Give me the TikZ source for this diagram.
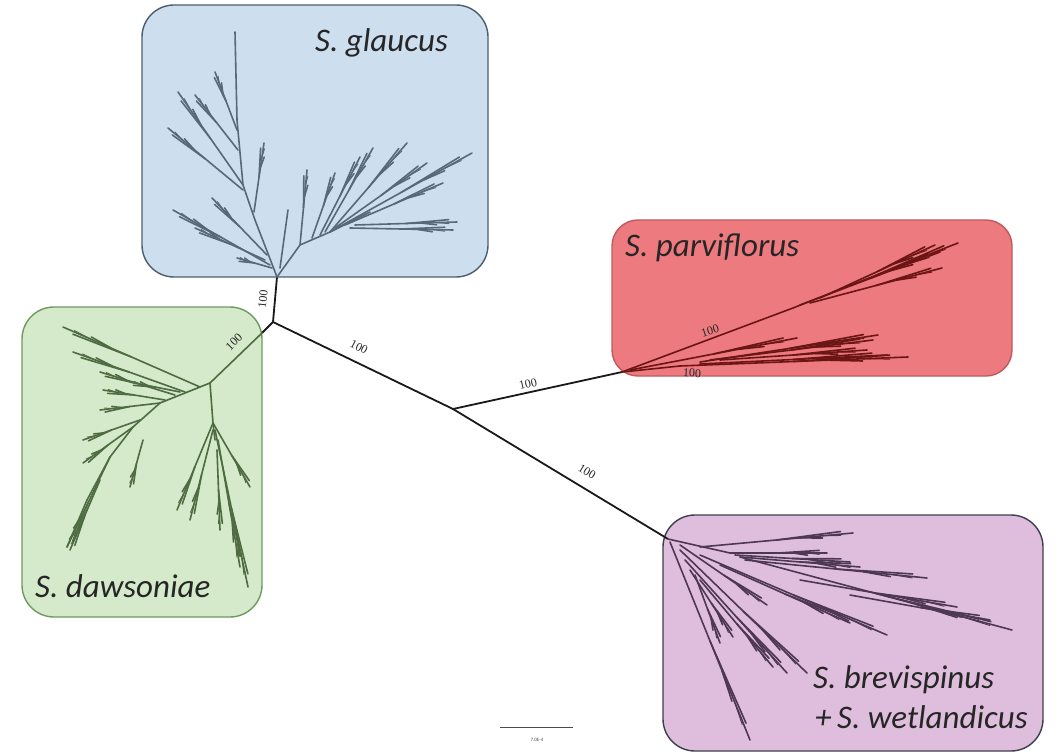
\documentclass[tikz,border=0pt]{standalone}
\usepackage{fontspec}
\setmainfont{Carlito}
\newfontfamily\labfont{Liberation Serif}
\usetikzlibrary{calc}
\definecolor{bluefill}{HTML}{CDDEEF}
\definecolor{blueedge}{HTML}{4D5D6E}
\definecolor{bluetree}{HTML}{56697A}
\definecolor{greenfill}{HTML}{D4EACB}
\definecolor{greenedge}{HTML}{6E9A60}
\definecolor{greentree}{HTML}{4F6B42}
\definecolor{redfill}{HTML}{EC7A7F}
\definecolor{rededge}{HTML}{C05A5F}
\definecolor{redtree}{HTML}{6B1515}
\definecolor{purplefill}{HTML}{DFBEDD}
\definecolor{purpleedge}{HTML}{3E3E4E}
\definecolor{purpletree}{HTML}{4E3752}
\newcommand\treebrush[2]{%
  \draw (#1) -- (#2);
  \path (#1) -- (#2) coordinate[pos=0.5] (tbA) coordinate[pos=0.92] (tbB)
        coordinate[pos=0.8] (tbC) coordinate[pos=0.65] (tbD);
  \draw (tbA) -- ($(tbB)!2.6pt!90:(#2)$);
  \draw (tbD) -- ($(tbC)!2.2pt!-90:(#2)$);
  \draw[line width=0.9pt] (tbC) -- ($(tbB)!1.4pt!-90:(#2)$);
}
\tikzset{
  clade/.style={rounded corners=32pt, line width=1.4pt},
  species/.style={font=\fontsize{33}{36}\selectfont\itshape, text=black!85, inner sep=0pt, anchor=base west},
  support/.style={font=\labfont\fontsize{12}{12}\selectfont, inner sep=1pt, text=black!85},
  backbone/.style={line width=1.8pt, black!90},
  twig/.style={line width=1.6pt, line cap=round},
}
\begin{document}
\begin{tikzpicture}[x=1pt,y=-1pt]
\useasboundingbox (0,0) rectangle (1061,754);
% clade boxes
\filldraw[clade, fill=bluefill, draw=blueedge] (142,5) rectangle (488,277);
\filldraw[clade, fill=greenfill, draw=greenedge] (22,307) rectangle (262,617);
\filldraw[clade, rounded corners=26pt, fill=redfill, draw=rededge] (612,220) rectangle (1012,376);
\filldraw[clade, fill=purplefill, draw=purpleedge] (663,515) rectangle (1043,751);

% backbone
\coordinate (bR) at (277,277);
\coordinate (j1) at (273,322);
\coordinate (gE) at (262,333);
\coordinate (gR) at (210,383);
\coordinate (j2) at (453,409);
\coordinate (rR) at (622,372);
\coordinate (pR) at (668,539);
\draw[backbone] (bR) -- (j1) -- (j2) -- (rR);
\draw[backbone] (j2) -- (pR);
\draw[backbone] (j1) -- (gE);

% blue clade
\begin{scope}[twig, draw=bluetree]
  \draw (bR) -- (255,220) -- (243,185) -- (237,120) -- (235,32);
  \treebrush{243,185}{178,92}
  \treebrush{243,190}{168,128}
  \treebrush{238,150}{195,95}
  \treebrush{237,130}{215,72}
  \treebrush{270,265}{173,210}
  \treebrush{267,255}{212,198}
  \treebrush{272,268}{237,258}
  \treebrush{265,260}{195,228}
  \treebrush{254,212}{264,143}
  \draw (bR) -- (300,245) -- (330,232) -- (370,212);
  \treebrush{330,232}{472,153}
  \treebrush{345,225}{443,183}
  \treebrush{335,228}{427,163}
  \treebrush{330,232}{407,143}
  \treebrush{355,225}{457,222}
  \treebrush{350,228}{453,230}
  \treebrush{300,245}{307,170}
  \treebrush{312,238}{335,173}
  \treebrush{320,235}{360,157}
  \treebrush{325,232}{373,148}
  \draw (280,268) -- (288,210);
\end{scope}

% green clade
\begin{scope}[twig, draw=greentree]
  \draw (gE) -- (gR);
  \draw (gR) -- (200,387) -- (160,403) -- (133,427) -- (110,457) -- (87,500) -- (67,547);
  \treebrush{200,387}{63,327}
  \treebrush{185,392}{73,352}
  \treebrush{175,395}{100,372}
  \treebrush{180,392}{130,382}
  \treebrush{165,400}{103,390}
  \treebrush{160,403}{100,410}
  \treebrush{140,420}{83,440}
  \treebrush{133,427}{83,463}
  \treebrush{143,440}{130,487}
  \treebrush{110,457}{67,547}
  \treebrush{100,480}{70,550}
  \draw (gR) -- (213,423) -- (215,440);
  \treebrush{213,423}{177,510}
  \treebrush{213,430}{190,520}
  \treebrush{215,430}{248,587}
  \treebrush{218,440}{240,567}
  \treebrush{213,423}{250,487}
  \treebrush{217,450}{220,530}
\end{scope}

% red clade
\begin{scope}[twig, draw=redtree]
  \draw (rR) -- (793,308);
  \treebrush{793,308}{958,243}
  \treebrush{820,298}{935,245}
  \treebrush{800,305}{940,252}
  \treebrush{810,303}{942,268}
  \treebrush{630,370}{797,338}
  \treebrush{700,362}{878,335}
  \treebrush{710,360}{873,340}
  \treebrush{720,360}{867,350}
  \treebrush{680,366}{908,357}
  \treebrush{700,364}{887,355}
  \draw (rR) -- (680,366);
\end{scope}

% purple clade
\begin{scope}[twig, draw=purpletree]
  \draw (pR) -- (730,553);
  \treebrush{700,547}{853,533}
  \treebrush{730,553}{827,553}
  \treebrush{735,555}{850,562}
  \treebrush{740,557}{860,567}
  \treebrush{745,560}{927,578}
  \treebrush{740,557}{1012,630}
  \treebrush{800,580}{957,607}
  \treebrush{850,595}{990,620}
  \treebrush{700,555}{887,635}
  \treebrush{720,565}{850,623}
  \treebrush{680,545}{767,605}
  \treebrush{680,550}{807,673}
  \treebrush{685,560}{787,673}
  \treebrush{670,542}{750,740}
  \treebrush{690,570}{733,637}
  \treebrush{695,575}{720,643}
  \treebrush{700,580}{773,667}
\end{scope}

% support values
\node[support, rotate=84] (s1) at (263,299) {100};
\node[support, rotate=45] (s2) at (234,342) {100};
\node[support, rotate=-27] (s3) at (359,347) {100};
\node[support, rotate=13] (s4) at (528,384) {100};
\node[support, rotate=-31] (s5) at (587,472) {100};
\node[support, rotate=17] (s6) at (710,331) {100};
\node[support, rotate=-3] (s7) at (692,373) {100};

% species labels
\node[species] (lg) at (315,52) {S. glaucus};
\node[species] (lp) at (625,257) {S. parviflorus};
\node[species] (ld) at (35,597) {S. dawsoniae};
\node[species] (lb) at (813,688) {S. brevispinus};
\node[species] (lw) at (815,728) {+\,S. wetlandicus};

% scale bar
\coordinate (sbL) at (500,727);
\coordinate (sbR) at (573,727);
\draw[line width=0.6pt, black!70] (sbL) -- (sbR);
\node[font=\fontsize{5}{5}\selectfont, text=black!70] (sbt) at (537,740) {7.0E-4};
\end{tikzpicture}
\end{document}
